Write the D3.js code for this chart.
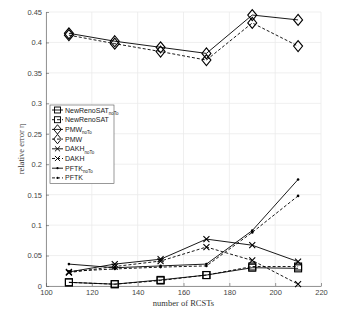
<!DOCTYPE html>
<html>
<head>
<meta charset="utf-8">
<script src="https://cdn.jsdelivr.net/npm/d3@7"></script>
<style>
  body { margin: 0; background: #fff; }
  svg { display: block; }
  .tick text { font-family: "Liberation Sans", Arial, sans-serif; font-size: 7.5px; fill: #444; }
  .lbl { font-family: "Liberation Serif", "Times New Roman", serif; font-size: 8.5px; fill: #333; }
  .leg { font-family: "Liberation Sans", Arial, sans-serif; font-size: 7px; fill: #222; }
</style>
</head>
<body>
<svg id="chart" width="355" height="310"></svg>
<script>
  var rcsts = [110, 130, 150, 170, 190, 210];
  var xTicks = [100, 120, 140, 160, 180, 200, 220];
  var yTicks = [0, 0.05, 0.1, 0.15, 0.2, 0.25, 0.3, 0.35, 0.4, 0.45];

  var newRenoNoTo = [0.006, 0.003, 0.010, 0.018, 0.030, 0.029];
  var newReno     = [0.006, 0.003, 0.009, 0.018, 0.032, 0.032];
  var pmwNoTo     = [0.415, 0.402, 0.392, 0.382, 0.445, 0.437];
  var pmw         = [0.412, 0.398, 0.385, 0.371, 0.432, 0.394];
  var dakhNoTo    = [0.023, 0.036, 0.044, 0.077, 0.067, 0.040];
  var dakh        = [0.022, 0.032, 0.041, 0.064, 0.042, 0.003];
  var pftkNoTo    = [0.036, 0.030, 0.033, 0.036, 0.091, 0.175];
  var pftk        = [0.024, 0.028, 0.031, 0.033, 0.088, 0.148];

  var series = [
    { name: "NewRenoSAT", sub: "noTo", values: newRenoNoTo, dash: null, mark: "square" },
    { name: "NewRenoSAT", sub: "", values: newReno, dash: "3,2", mark: "square" },
    { name: "PMW", sub: "noTo", values: pmwNoTo, dash: null, mark: "diamond" },
    { name: "PMW", sub: "", values: pmw, dash: "3,2", mark: "diamond" },
    { name: "DAKH", sub: "noTo", values: dakhNoTo, dash: null, mark: "cross" },
    { name: "DAKH", sub: "", values: dakh, dash: "3,2", mark: "cross" },
    { name: "PFTK", sub: "noTo", values: pftkNoTo, dash: null, mark: "dot" },
    { name: "PFTK", sub: "", values: pftk, dash: "3,2", mark: "dot" }
  ];

  var svg = d3.select("#chart");
  var margin = { top: 12, right: 34, bottom: 24, left: 46 };
  var width = +svg.attr("width") - margin.left - margin.right;
  var height = +svg.attr("height") - margin.top - margin.bottom;

  var x = d3.scaleLinear().domain([100, 220]).range([0, width]);
  var y = d3.scaleLinear().domain([0, 0.45]).range([height, 0]);

  var g = svg.append("g").attr("transform", "translate(" + margin.left + "," + margin.top + ")");

  // grid
  g.append("g").selectAll("line").data(xTicks).enter().append("line")
    .attr("x1", function (d) { return x(d); }).attr("x2", function (d) { return x(d); })
    .attr("y1", 0).attr("y2", height)
    .attr("stroke", "#ebebeb").attr("stroke-width", 0.8);
  g.append("g").selectAll("line").data(yTicks).enter().append("line")
    .attr("y1", function (d) { return y(d); }).attr("y2", function (d) { return y(d); })
    .attr("x1", 0).attr("x2", width)
    .attr("stroke", "#ebebeb").attr("stroke-width", 0.8);

  var xAxis = g.append("g").attr("transform", "translate(0," + height + ")")
    .call(d3.axisBottom(x).tickValues(xTicks).tickSizeInner(-3).tickSizeOuter(0).tickPadding(4));
  var yAxis = g.append("g")
    .call(d3.axisLeft(y).tickValues(yTicks).tickSizeInner(-3).tickSizeOuter(0).tickPadding(4)
      .tickFormat(function (d) { return d === 0 ? "0" : String(+d.toFixed(2)); }));
  [xAxis, yAxis].forEach(function (a) {
    a.selectAll("path, line").attr("stroke", "#555").attr("stroke-width", 0.6);
  });

  function drawMark(sel, type) {
    if (type === "square") {
      sel.append("rect").attr("x", -3.5).attr("y", -3.5).attr("width", 7).attr("height", 7)
        .attr("fill", "none").attr("stroke", "#000").attr("stroke-width", 1.1);
    } else if (type === "diamond") {
      sel.append("path").attr("d", "M0,-5.5L4.5,0L0,5.5L-4.5,0Z")
        .attr("fill", "none").attr("stroke", "#000").attr("stroke-width", 1.1);
    } else if (type === "cross") {
      sel.append("path").attr("d", "M-3,-3L3,3M-3,3L3,-3")
        .attr("stroke", "#000").attr("stroke-width", 1.1);
    } else {
      sel.append("circle").attr("r", 1.3).attr("fill", "#000");
    }
  }

  var line = d3.line()
    .x(function (d, i) { return x(rcsts[i]); })
    .y(function (d) { return y(d); });

  series.forEach(function (s) {
    g.append("path").datum(s.values)
      .attr("d", line)
      .attr("fill", "none").attr("stroke", "#000").attr("stroke-width", 0.9)
      .attr("stroke-dasharray", s.dash);
    g.append("g").selectAll("g").data(s.values).enter().append("g")
      .attr("transform", function (d, i) { return "translate(" + x(rcsts[i]) + "," + y(d) + ")"; })
      .each(function () { drawMark(d3.select(this), s.mark); });
  });

  // axis labels
  svg.append("text").attr("class", "lbl")
    .attr("x", margin.left + width / 2).attr("y", 306)
    .attr("text-anchor", "middle").text("number of RCSTs");
  svg.append("text").attr("class", "lbl")
    .attr("transform", "translate(24," + (margin.top + height / 2) + ") rotate(-90)")
    .attr("text-anchor", "middle").text("relative error η");

  // legend
  var leg = svg.append("g").attr("transform", "translate(50,105)");
  var rowH = 9.7;
  leg.append("rect").attr("x", 0).attr("y", 0).attr("width", 64).attr("height", rowH * 8 + 1)
    .attr("fill", "#fff").attr("stroke", "#555").attr("stroke-width", 0.6);
  series.forEach(function (s, i) {
    var row = leg.append("g").attr("transform", "translate(0," + (5 + i * rowH) + ")");
    row.append("line").attr("x1", 2).attr("x2", 13).attr("y1", 0).attr("y2", 0)
      .attr("stroke", "#000").attr("stroke-width", 0.9).attr("stroke-dasharray", s.dash);
    var m = row.append("g").attr("transform", "translate(7.5,0) scale(0.85)");
    drawMark(m, s.mark);
    var t = row.append("text").attr("class", "leg").attr("x", 15).attr("y", 2.5).text(s.name);
    if (s.sub) {
      t.append("tspan").attr("dy", 2.5).style("font-size", "4.5px").text(s.sub);
    }
  });
</script>
</body>
</html>
